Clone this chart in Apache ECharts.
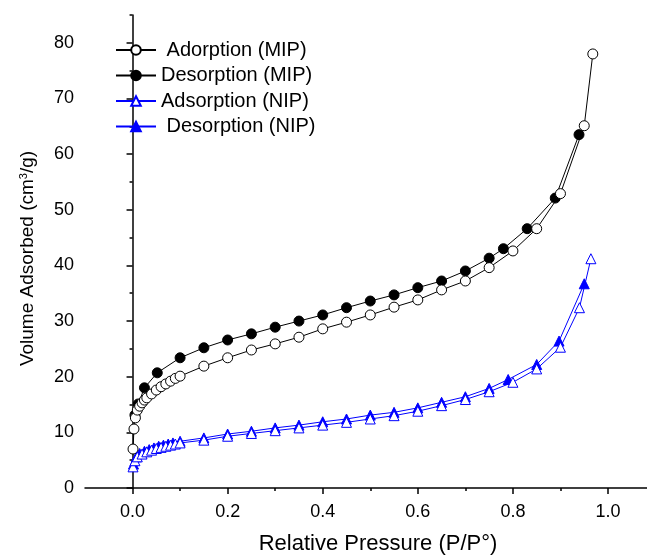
<!DOCTYPE html>
<html>
<head>
<meta charset="utf-8">
<script src="https://cdn.jsdelivr.net/npm/echarts@6/dist/echarts.min.js"></script>
<style>html,body{margin:0;padding:0;background:#fff;overflow:hidden;}#c{width:647px;height:556px;}</style>
</head>
<body>
<div id="c"></div>
<script>
// ---- data ----
const adsMIP = [[0.001,7.0],[0.003,10.6],[0.006,12.6],[0.01,14.0],[0.015,14.7],[0.02,15.3],[0.025,15.8],[0.03,16.2],[0.04,16.9],[0.05,17.6],[0.06,18.2],[0.07,18.7],[0.08,19.2],[0.09,19.7],[0.1,20.1],[0.15,21.9],[0.2,23.4],[0.25,24.8],[0.3,25.9],[0.35,27.1],[0.4,28.6],[0.45,29.8],[0.5,31.1],[0.55,32.5],[0.6,33.8],[0.65,35.6],[0.7,37.2],[0.75,39.6],[0.8,42.6],[0.85,46.6],[0.9,52.9],[0.95,65.1],[0.968,78.0]];
const desMIP = [[0.005,13.1],[0.012,15.1],[0.025,18.0],[0.052,20.7],[0.1,23.4],[0.15,25.2],[0.2,26.6],[0.25,27.7],[0.3,28.9],[0.35,30.0],[0.4,31.1],[0.45,32.4],[0.5,33.6],[0.55,34.7],[0.6,36.0],[0.65,37.2],[0.7,39.0],[0.75,41.3],[0.78,43.0],[0.83,46.6],[0.889,52.1],[0.939,63.5]];
const adsNIP = [[0.001,3.8],[0.005,4.9],[0.01,5.6],[0.02,6.1],[0.03,6.5],[0.04,6.8],[0.05,7.1],[0.06,7.3],[0.07,7.5],[0.08,7.7],[0.09,7.9],[0.1,8.1],[0.15,8.6],[0.2,9.3],[0.25,9.8],[0.3,10.3],[0.35,10.8],[0.4,11.3],[0.45,11.8],[0.5,12.4],[0.55,13.0],[0.6,13.8],[0.65,14.8],[0.7,15.9],[0.75,17.3],[0.8,19.0],[0.85,21.4],[0.9,25.3],[0.94,32.4],[0.964,41.2]];
const desNIP = [[0.002,4.3],[0.008,5.6],[0.015,6.2],[0.025,6.6],[0.035,6.9],[0.045,7.2],[0.055,7.5],[0.065,7.7],[0.075,7.9],[0.085,8.1],[0.1,8.4],[0.15,9.0],[0.2,9.7],[0.25,10.2],[0.3,10.8],[0.35,11.3],[0.4,11.9],[0.45,12.4],[0.5,13.1],[0.55,13.6],[0.6,14.4],[0.65,15.4],[0.7,16.4],[0.75,17.9],[0.79,19.5],[0.85,22.2],[0.897,26.4],[0.95,36.7]];
const seriesNames = [' Adorption (MIP)','Desorption (MIP)','Adsorption (NIP)',' Desorption (NIP)'];
const xMajorTicks = [0,0.2,0.4,0.6,0.8,1.0];
const xMinorTicks = [0.1,0.3,0.5,0.7,0.9];
const yMajorTicks = [0,10,20,30,40,50,60,70,80];
const yMinorTicks = [5,15,25,35,45,55,65,75,85];
const xTitle = 'Relative Pressure (P/P°)';

const FONT = '"Liberation Sans", Arial, sans-serif';
const chart = echarts.init(document.getElementById('c'), null, {renderer:'canvas'});
const axisLine = {show:true, lineStyle:{color:'#000', width:1.5}};
const xBase = {type:'value', min:-0.1, max:1.082, position:'bottom', splitLine:{show:false}};
const yBase = {type:'value', min:0, max:85, position:'left', splitLine:{show:false}};
function mk(name, data, symbol, color, filled){
  return {name, type:'line', data, symbol, symbolSize:10, showSymbol:true,
    lineStyle:{color, width:1},
    itemStyle:{color: filled?color:'#fff', borderColor:color, borderWidth:1},
    emphasis:{disabled:true}, animation:false, z: filled?2:3};
}
chart.setOption({
  animation:false,
  textStyle:{fontFamily:FONT},
  grid:{left:85, top:15, bottom:68, right:0, containLabel:false, outerBoundsMode:'none'},
  legend:{orient:'vertical', left:110, top:35, itemWidth:40, itemHeight:12, itemGap:5.5,
    textStyle:{fontFamily:FONT, fontSize:20, color:'#000'},
    data:seriesNames},
  xAxis:[
    Object.assign({}, xBase, {axisLine, name:xTitle, nameLocation:'middle', nameGap:45,
      nameTextStyle:{fontFamily:FONT, fontSize:22, color:'#000', padding:[0,0,0,24]},
      axisTick:{show:true, inside:false, length:6, customValues:xMajorTicks, lineStyle:{color:'#000', width:1.5}},
      axisLabel:{show:true, margin:15, customValues:xMajorTicks, fontFamily:FONT, fontSize:18, color:'#000', formatter:v=>v.toFixed(1)}}),
    Object.assign({}, xBase, {axisLine:{show:false},
      axisTick:{show:true, inside:false, length:3, customValues:xMinorTicks, lineStyle:{color:'#000', width:1.5}},
      axisLabel:{show:false}})
  ],
  yAxis:[
    Object.assign({}, yBase, {axisLine, name:'Volume Adsorbed (cm{sup|3}/g)', nameLocation:'middle', nameGap:47,
      nameTextStyle:{fontFamily:FONT, fontSize:19, color:'#000', padding:[0,14,0,0], rich:{sup:{fontFamily:FONT, fontSize:11, verticalAlign:'bottom', padding:[0,0,9,0], color:'#000'}}},
      axisTick:{show:true, inside:false, length:6, customValues:yMajorTicks, lineStyle:{color:'#000', width:1.5}},
      axisLabel:{show:true, margin:11, customValues:yMajorTicks, fontFamily:FONT, fontSize:18, color:'#000'}}),
    Object.assign({}, yBase, {axisLine:{show:false},
      axisTick:{show:true, inside:false, length:3, customValues:yMinorTicks, lineStyle:{color:'#000', width:1.5}},
      axisLabel:{show:false}})
  ],
  series:[
    mk(seriesNames[0], adsMIP, 'circle', '#000', false),
    mk(seriesNames[1], desMIP, 'circle', '#000', true),
    mk(seriesNames[2], adsNIP, 'triangle', '#0000ff', false),
    mk(seriesNames[3], desNIP, 'triangle', '#0000ff', true)
  ]
});
</script>
</body>
</html>
